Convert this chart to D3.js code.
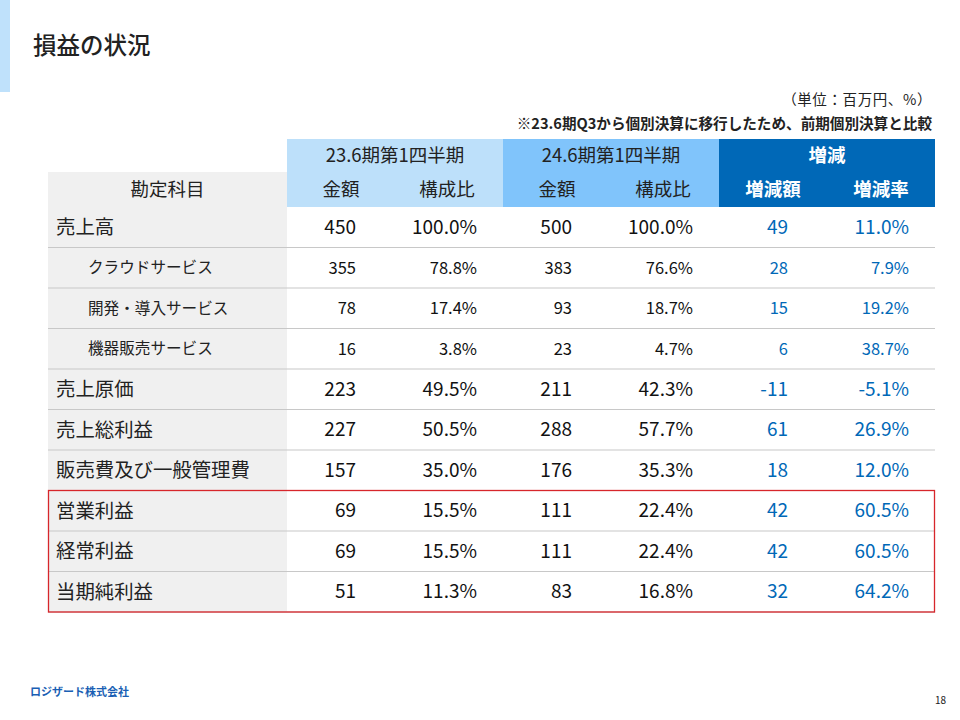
<!DOCTYPE html>
<html><head><meta charset="utf-8">
<script src="https://cdn.jsdelivr.net/npm/d3@7"></script>
<style>
html,body{margin:0;padding:0;background:#fff;}
text{font-family:"Noto Sans CJK JP","Noto Sans",sans-serif;}
</style></head>
<body><svg id="c" width="960" height="720"></svg>
<script>
// ---- data ----
const items = ["売上高","クラウドサービス","開発・導入サービス","機器販売サービス","売上原価","売上総利益","販売費及び一般管理費","営業利益","経常利益","当期純利益"];
const isSub = [false,true,true,true,false,false,false,false,false,false];
const prevAmount = ["450","355","78","16","223","227","157","69","69","51"];
const prevRatio  = ["100.0%","78.8%","17.4%","3.8%","49.5%","50.5%","35.0%","15.5%","15.5%","11.3%"];
const curAmount  = ["500","383","93","23","211","288","176","111","111","83"];
const curRatio   = ["100.0%","76.6%","18.7%","4.7%","42.3%","57.7%","35.3%","22.4%","22.4%","16.8%"];
const diffAmount = ["49","28","15","6","-11","61","18","42","42","32"];
const diffRate   = ["11.0%","7.9%","19.2%","38.7%","-5.1%","26.9%","12.0%","60.5%","60.5%","64.2%"];
const groupHeaders = ["23.6期第1四半期","24.6期第1四半期","増減"];
const subHeaders = ["金額","構成比","金額","構成比","増減額","増減率"];
const highlighted = ["営業利益","経常利益","当期純利益"];

const svg = d3.select("#c");
const blue = "#0068b7";

// accent bar + title
svg.append("rect").attr("x",0).attr("y",0).attr("width",10).attr("height",92).attr("fill","#bfe1fb");
svg.append("text").attr("x",33).attr("y",54).attr("font-size",23.5).attr("font-weight",500).attr("fill","#222").text("損益の状況");

svg.append("text").attr("x",932).attr("y",105).attr("text-anchor","end").attr("font-size",14.5).attr("letter-spacing",0.6).attr("fill","#222").text("（単位：百万円、%）");
svg.append("text").attr("x",932).attr("y",129).attr("text-anchor","end").attr("font-size",14.6).attr("font-weight",700).attr("fill","#222").text("※23.6期Q3から個別決算に移行したため、前期個別決算と比較");

// layout scales
const L = 48, R = 935, labelR = 287;
const groupX = d3.scaleBand().domain(groupHeaders).range([labelR, R]);
const colX = d3.scaleBand().domain(d3.range(6)).range([labelR, R]);
const y = d3.scaleBand().domain(items).range([207, 612]);
const hy1 = 139, hy2 = 172, hy3 = 207;
const groupFill = ["#bde0fa","#80c4fb",blue];
const headColor = ["#222","#222","#fff"];

// header group row
svg.selectAll(".gh").data(groupHeaders).join("rect")
  .attr("x",d=>groupX(d)).attr("y",hy1).attr("width",groupX.bandwidth()).attr("height",hy3-hy1)
  .attr("fill",(d,i)=>groupFill[i]);
svg.selectAll(".ght").data(groupHeaders).join("text")
  .attr("x",d=>groupX(d)+groupX.bandwidth()/2).attr("y",hy1+17).attr("dy","0.35em").attr("text-anchor","middle")
  .attr("font-size",18.5).attr("font-weight",(d,i)=>i===2?700:400).attr("fill",(d,i)=>headColor[i]).text(d=>d);
// label header
svg.append("rect").attr("x",L).attr("y",hy2).attr("width",labelR-L).attr("height",hy3-hy2).attr("fill","#f0f0f0");
svg.append("text").attr("x",(L+labelR)/2).attr("y",hy2+17.5).attr("dy","0.35em").attr("text-anchor","middle").attr("font-size",18.5).attr("fill","#222").text("勘定科目");
// sub headers
svg.selectAll(".sh").data(subHeaders).join("text")
  .attr("x",(d,i)=> colX(i)+colX.bandwidth()/2 - (i%2===1 && i<4 ? 2 : 0))
  .attr("y",hy2+17.5).attr("dy","0.35em").attr("text-anchor","middle").attr("font-size",18.5)
  .attr("font-weight",(d,i)=>i>=4?700:400).attr("fill",(d,i)=>i>=4?"#fff":"#222").text(d=>d);

// body label column bg
svg.append("rect").attr("x",L).attr("y",y.range()[0]).attr("width",labelR-L).attr("height",y.range()[1]-y.range()[0]).attr("fill","#f0f0f0");

// row lines
svg.selectAll(".rl").data(items).join("line")
  .attr("x1",L).attr("x2",R).attr("y1",d=>y(d)+y.bandwidth()).attr("y2",d=>y(d)+y.bandwidth())
  .attr("stroke","#c8c8c8").attr("stroke-width",1.2);

// labels
svg.selectAll(".lb").data(items).join("text")
  .attr("x",(d,i)=>isSub[i]?88:56).attr("y",d=>y(d)+y.bandwidth()/2).attr("dy","0.35em")
  .attr("font-size",(d,i)=>isSub[i]?15.6:19.4).attr("fill","#222").text(d=>d);

// numbers
const cols = [prevAmount,prevRatio,curAmount,curRatio,diffAmount,diffRate];
const colRight = i => i%2===0 ? colX(i)+colX.bandwidth()-39 : colX(i)+colX.bandwidth()-26;
cols.forEach((arr,ci)=>{
  svg.selectAll(".c"+ci).data(arr).join("text")
    .attr("x",colRight(ci)).attr("y",(d,i)=>y(items[i])+y.bandwidth()/2).attr("dy","0.35em")
    .attr("text-anchor","end").attr("font-size",(d,i)=>isSub[i]?16.5:19)
    .attr("fill",ci>=4?blue:"#111").text(d=>d);
});

// highlight box
const hs = y(highlighted[0]), he = y(highlighted[highlighted.length-1])+y.bandwidth();
svg.append("rect").attr("x",L+0.5).attr("y",hs).attr("width",R-L-1).attr("height",he-hs)
  .attr("fill","none").attr("stroke","#d7262b").attr("stroke-width",1.3);

// footer
svg.append("text").attr("x",30).attr("y",696).attr("font-size",11).attr("font-weight",700).attr("fill","#1a5fb4").text("ロジザード株式会社");
svg.append("text").attr("x",946).attr("y",704).attr("text-anchor","end").attr("font-size",10).attr("font-family","DejaVu Serif, serif").attr("fill","#222").text("18");
</script></body></html>
